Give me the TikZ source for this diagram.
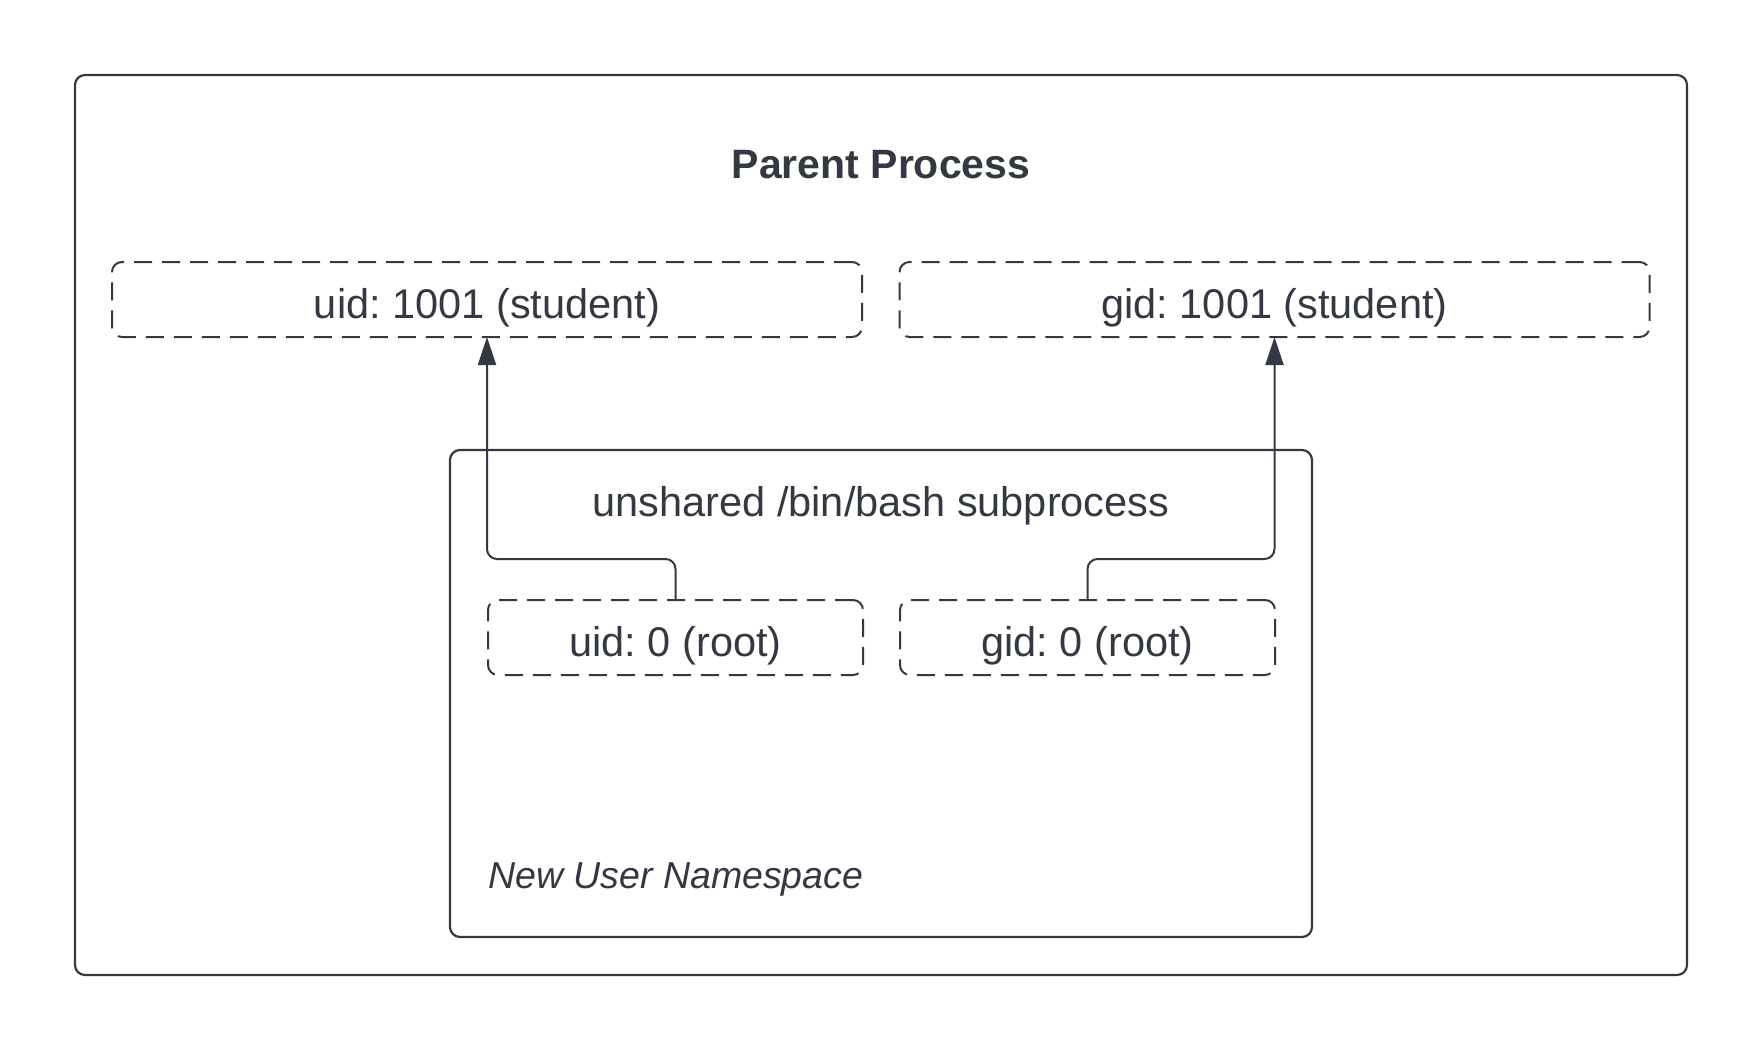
\documentclass[tikz,border=0pt]{standalone}
\usepackage{fontspec}
\setmainfont{Liberation Sans}
\usetikzlibrary{arrows.meta}
\definecolor{ink}{RGB}{51,56,66}
\frenchspacing
\begin{document}
\begin{tikzpicture}[x=1pt,y=-1pt,
  box/.style={draw=ink,line width=2.2pt,rounded corners=10pt,inner sep=0pt,outer sep=0pt},
  dbox/.style={draw=ink,line width=2pt,rounded corners=10pt,inner sep=0pt,outer sep=0pt,
     dash pattern=on 18pt off 10pt,minimum height=75pt,text=ink,
     text height=38pt,text depth=0pt,
     font=\fontsize{41.5}{49}\selectfont},
  lbl/.style={text=ink,inner sep=0pt,font=\fontsize{41.5}{49}\selectfont},
  conn/.style={draw=ink,line width=2pt,rounded corners=10pt,-{Triangle[width=18pt,length=28pt]}}]
\useasboundingbox (0,0) rectangle (1763,1050);
\node[box,minimum width=1612pt,minimum height=900pt] (outer) at (881,525) {};
\node[lbl,font=\fontsize{41}{49}\selectfont\bfseries] (ptitle) at (881,165) {Parent Process};
\node[dbox,minimum width=750pt] (uid) at (487,299.5) {uid: 1001 (student)};
\node[dbox,minimum width=750pt] (gid) at (1274.5,299.5) {gid: 1001 (student)};
\node[box,minimum width=862pt,minimum height=487pt] (inner) at (881,693.5) {};
\node[lbl] (stitle) at (881,505.5) {unshared /bin/bash subprocess};
\node[dbox,minimum width=375pt] (uid0) at (675.5,637.5) {uid: 0 (root)};
\node[dbox,minimum width=375pt] (gid0) at (1087.5,637.5) {gid: 0 (root)};
\node[lbl,anchor=west,font=\fontsize{37.5}{44}\selectfont\itshape] (ns) at (488,879.5) {New User Namespace};
\draw[conn] (uid0.north) -- ++(0,-41) -| (uid.south);
\draw[conn] (gid0.north) -- ++(0,-41) -| (gid.south);
\end{tikzpicture}
\end{document}
